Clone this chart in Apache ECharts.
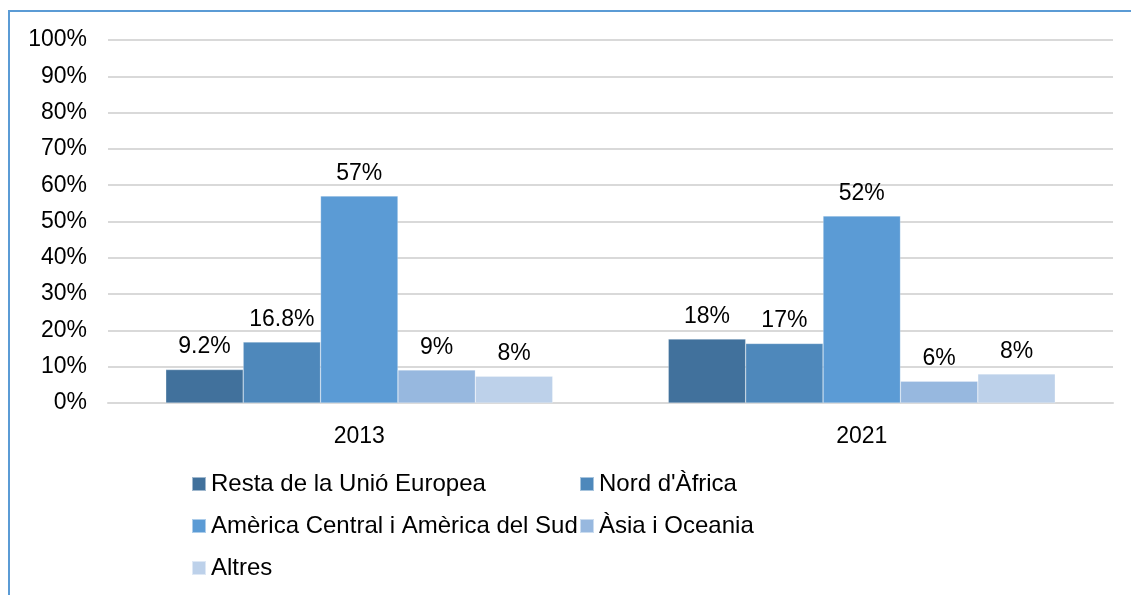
<!DOCTYPE html>
<html>
<head>
<meta charset="utf-8">
<script src="https://cdn.jsdelivr.net/npm/echarts@6/dist/echarts.min.js"></script>
<style>
  html, body { margin: 0; padding: 0; background: #fff; }
  #chart { width: 1131px; height: 595px; }
</style>
</head>
<body>
<div id="chart"></div>
<script>
// categories (years)
var years = ['2013', '2021'];
// series names
var regions = ['Resta de la Unió Europea', "Nord d'Àfrica", 'Amèrica Central i Amèrica del Sud', 'Àsia i Oceania', 'Altres'];
// values per region, [2013, 2021]
var restaUE = [9.2, 17.6];
var nordAfrica = [16.8, 16.4];
var americaSud = [57, 51.5];
var asiaOceania = [9.1, 6.0];
var altres = [7.4, 8.0];
// labels as printed on the chart
var restaUELabels = ['9.2%', '18%'];
var nordAfricaLabels = ['16.8%', '17%'];
var americaSudLabels = ['57%', '52%'];
var asiaOceaniaLabels = ['9%', '6%'];
var altresLabels = ['8%', '8%'];
// y axis ticks
var yTicks = [0, 10, 20, 30, 40, 50, 60, 70, 80, 90, 100];

var colors = ['#41719c', '#4e88bb', '#5b9bd5', '#97b8df', '#bdd1ea'];
var font = "'Liberation Sans', Arial, sans-serif";

var allValues = [restaUE, nordAfrica, americaSud, asiaOceania, altres];
var allLabels = [restaUELabels, nordAfricaLabels, americaSudLabels, asiaOceaniaLabels, altresLabels];

var chart = echarts.init(document.getElementById('chart'));

var series = regions.map(function (name, i) {
  return {
    name: name,
    type: 'bar',
    barGap: '0%',
    barCategoryGap: '23%',
    data: allValues[i],
    itemStyle: { color: colors[i], borderColor: 'rgba(255,255,255,0.5)', borderWidth: 0.5 },
    label: {
      show: true,
      position: 'top',
      distance: 11,
      color: '#000',
      fontFamily: font,
      fontSize: 23,
      formatter: function (p) { return allLabels[i][p.dataIndex]; }
    }
  };
});

var option = {
  animation: false,
  backgroundColor: '#fff',
  color: colors,
  graphic: [{
    type: 'polyline',
    shape: { points: [[9, 595], [9, 11], [1131, 11]] },
    style: { stroke: '#5b9bd5', lineWidth: 2, fill: null }
  }],
  grid: { left: 108, right: 18, top: 40, bottom: 192 },
  legend: {
    left: 186,
    top: 458,
    width: 800,
    orient: 'horizontal',
    itemWidth: 14,
    itemHeight: 14,
    itemGap: 0,
    icon: 'rect',
    data: regions,
    textStyle: {
      fontFamily: font,
      fontSize: 24,
      color: '#000',
      width: 368,
      lineHeight: 42
    }
  },
  xAxis: {
    type: 'category',
    data: years,
    axisLine: { lineStyle: { color: '#d9d9d9', width: 2 } },
    axisTick: { show: false },
    axisLabel: { color: '#000', fontFamily: font, fontSize: 23, margin: 22 }
  },
  yAxis: {
    type: 'value',
    min: yTicks[0],
    max: yTicks[yTicks.length - 1],
    interval: 10,
    axisLine: { show: false },
    axisTick: { show: false },
    splitLine: { lineStyle: { color: '#d9d9d9', width: 2 } },
    axisLabel: { color: '#000', fontFamily: font, fontSize: 23, margin: 21, formatter: '{value}%' }
  },
  series: series
};

chart.setOption(option);
</script>
</body>
</html>
